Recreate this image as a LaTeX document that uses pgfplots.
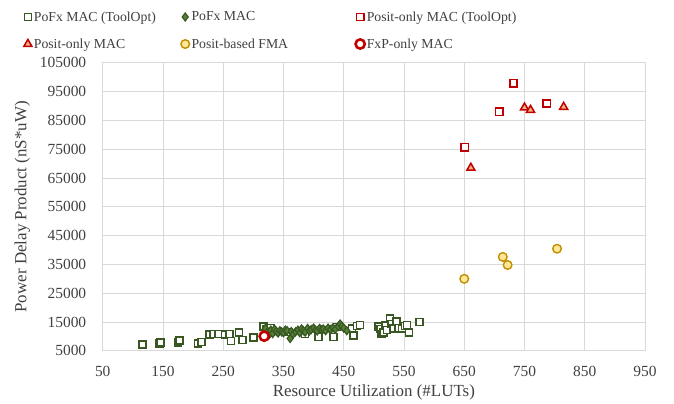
\documentclass[border=0pt]{standalone}
\usepackage{pgfplots}
\pgfplotsset{compat=1.18}
\usepackage{fontspec}
\setmainfont{Liberation Serif}
\definecolor{gedge}{HTML}{385723}
\definecolor{gfill}{HTML}{548235}
\definecolor{redc}{HTML}{C00000}
\definecolor{trif}{HTML}{F4B183}
\definecolor{yedge}{HTML}{BF9000}
\definecolor{yfill}{HTML}{FFE699}
\definecolor{gridc}{HTML}{D9D9D9}
\definecolor{txt}{HTML}{404040}
\begin{document}
\begin{tikzpicture}
\begin{axis}[
  scale only axis,
  width=542bp, height=288bp,
  xmin=50, xmax=950, ymin=5000, ymax=105000,
  xtick={50,150,250,350,450,550,650,750,850,950},
  xticklabels={50,150,250,350,450,550,650,750,850,950},
  ytick={5000,15000,25000,35000,45000,55000,65000,75000,85000,95000,105000},
  yticklabels={5000,15000,25000,35000,45000,55000,65000,75000,85000,95000,105000},
  grid=major,
  grid style={draw=gridc, line width=0.9bp},
  axis line style={draw=gridc, line width=0.9bp},
  major tick length=0pt,
  tick label style={font=\fontsize{15.5}{17}\selectfont, text=txt},
  scaled ticks=false,
  xticklabel style={yshift=-12bp},
  yticklabel style={xshift=-13bp},
  xlabel={Resource Utilization (\#LUTs)},
  ylabel={Power Delay Product (nS*uW)},
  label style={font=\fontsize{17}{19}\selectfont, text=txt},
  xlabel style={yshift=-1bp},
  ylabel style={yshift=3bp},
  legend columns=3,
  legend style={
    at={(rel axis cs:0,1)}, anchor=south west,
    xshift=-82bp, yshift=9bp,
    draw=none, fill=none,
    font=\fontsize{13.8}{16}\selectfont,
    nodes={anchor=west, text=txt},
    row sep=12bp,
  },
  legend cell align=left,
]
% PoFx MAC (ToolOpt)
\addplot[only marks, mark=square*, mark size=3.5bp, mark options={draw=gedge, fill=white, line width=1.6bp}] coordinates {
(116,7300) (144,7600) (146,7900) (175,7900) (177,8500) (208,7600) (214,8100)
(227,10700) (234,10800) (242,10800) (253,10700) (260,10800) (263,8400)
(276,11400) (282,8750) (300,9600) (317,13400) (321,12400) (325,11800) (328,13000)
(358,11500) (386,10800) (408,9800) (433,9800) (439,13300) (464,12700) (466,10400)
(472,13600) (477,14000) (508,13400) (511,12600) (513,10800) (516,11400)
(519,13800) (522,12300) (527,16300) (529,14300) (533,12800) (538,15100)
(541,13000) (547,12800) (552,13600) (555,14000) (558,11400) (576,15000)
};
\addlegendentry{\makebox[145bp][l]{PoFx MAC (ToolOpt)}}
% PoFx MAC
\addplot[only marks, mark=diamond*, mark size=4bp, mark options={draw=gedge, fill=gfill, line width=1.2bp}] coordinates {
(320,12800) (323,11500) (326,10600) (329,12200) (332,11000) (335,12500)
(338,11800) (341,11200) (344,12000) (347,11600) (350,11300) (353,12200)
(356,12000) (361,9300) (363,11700) (366,10800) (370,11600) (374,12200)
(377,11300) (380,12600) (383,12000) (386,11500) (390,12800) (393,11900)
(396,12400) (400,12900) (403,12200) (406,11900) (410,12800) (413,12300)
(416,12600) (420,12000) (424,12900) (428,12400) (432,13000) (436,12500)
(441,13500) (444,14300) (447,13600) (450,12900) (455,12000)
};
\addlegendentry{\makebox[162bp][l]{PoFx MAC}}
% Posit-only MAC (ToolOpt)
\addplot[only marks, mark=square*, mark size=3.6bp, mark options={draw=redc, fill=white, line width=1.6bp}] coordinates {
(651,75700) (708,88000) (732,97900) (787,90800)
};
\addlegendentry{Posit-only MAC (ToolOpt)}
% Posit-only MAC
\addplot[only marks, mark=triangle*, mark size=4.6bp, mark options={draw=redc, fill=trif, line width=1.5bp}] coordinates {
(661,68500) (750,89400) (760,88600) (815,89650)
};
\addlegendentry{\makebox[145bp][l]{Posit-only MAC}}
% Posit-based FMA
\addplot[only marks, mark=*, mark size=4.3bp, mark options={draw=yedge, fill=yfill, line width=1.4bp}] coordinates {
(650,30000) (714,37600) (722,34800) (804,40450)
};
\addlegendentry{\makebox[162bp][l]{Posit-based FMA}}
% FxP-only MAC
\addplot[only marks, mark=*, mark size=4.6bp, mark options={draw=redc, fill=white, line width=2.6bp}] coordinates {
(318,10100)
};
\addlegendentry{FxP-only MAC}
\coordinate (ll) at (rel axis cs:0,0);
\coordinate (ur) at (rel axis cs:1,1);
\end{axis}
\pgfresetboundingbox
\path[use as bounding box] ([shift={(-102.7bp,-52.2bp)}]ll) rectangle ([shift={(29bp,62.7bp)}]ur);
\end{tikzpicture}
\end{document}
